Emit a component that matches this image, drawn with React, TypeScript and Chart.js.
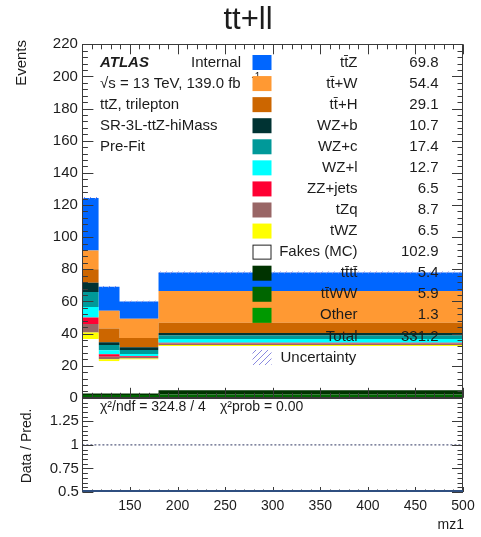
import React, { useEffect, useRef } from 'react';
import { Chart, registerables } from 'chart.js';

Chart.register(...registerables);

// mz1 binning [GeV]
const binEdges = [100, 117, 139, 180, 500];

// Expected events per bin, one array per sample
const ttZ = [32.6, 15.0, 10.7, 11.5];
const ttW = [11.7, 10.9, 12.0, 19.8];
const ttH = [8.4, 8.6, 5.7, 6.4];
const wzB = [5.7, 1.8, 1.7, 1.5];
const wzC = [9.4, 3.2, 2.6, 2.2];
const wzL = [6.6, 2.5, 1.3, 2.3];
const zzJets = [4.0, 1.5, 0.5, 0.5];
const tZq = [5.3, 1.6, 0.9, 0.9];
const tWZ = [4.0, 1.3, 0.6, 0.6];
const fakes = [33.9, 20.1, 21.3, 27.6];
const tttt = [0.9, 0.9, 0.9, 2.7];
const ttWW = [1.5, 1.4, 1.4, 1.6];
const other = [0.3, 0.3, 0.3, 0.4];

// Total MC uncertainty per bin (half-width of the hatched band)
const mcUncertainty = [0.7, 0.5, 0.5, 0.6];

// Integrated yields quoted in the legend
const yieldLabels = ['69.8', '54.4', '29.1', '10.7', '17.4', '12.7', '6.5', '8.7', '6.5', '102.9', '5.4', '5.9', '1.3'];
const totalYield = '331.2';

// Axis tick labels
const mainYTicks = [0, 20, 40, 60, 80, 100, 120, 140, 160, 180, 200, 220];
const ratioYTicks = [0.5, 0.75, 1, 1.25];
const xTicks = [150, 200, 250, 300, 350, 400, 450, 500];

const chi2Text = 'χ²/ndf = 324.8 / 4';
const chi2ProbText = 'χ²prob = 0.00';

const FONT = '"Liberation Sans", Arimo, Helvetica, Arial, sans-serif';
const TXT = '#1c1c1c';

// Stack order from the bottom up
const stack = [
  { label: 'Other', data: other, color: '#009900' },
  { label: 'tt̄WW', data: ttWW, color: '#006600' },
  { label: 'tt̄tt̄', data: tttt, color: '#003300' },
  { label: 'Fakes (MC)', data: fakes, color: '#ffffff' },
  { label: 'tWZ', data: tWZ, color: '#ffff00' },
  { label: 'tZq', data: tZq, color: '#996666' },
  { label: 'ZZ+jets', data: zzJets, color: '#ff0033' },
  { label: 'WZ+l', data: wzL, color: '#00ffff' },
  { label: 'WZ+c', data: wzC, color: '#009999' },
  { label: 'WZ+b', data: wzB, color: '#003333' },
  { label: 'tt̄+H', data: ttH, color: '#cc6600' },
  { label: 'tt̄+W', data: ttW, color: '#ff9933' },
  { label: 'tt̄Z', data: ttZ, color: '#0066ff' },
];

// Step points: one at each lower bin edge, plus the upper edge of the last bin
const toSteps = (vals: number[]) => [
  ...vals.map((y, i) => ({ x: binEdges[i], y })),
  { x: binEdges[binEdges.length - 1], y: vals[vals.length - 1] },
];

function hatchPattern(): CanvasPattern | string {
  const c = document.createElement('canvas');
  c.width = 6;
  c.height = 6;
  const g = c.getContext('2d');
  if (!g) return 'rgba(120,120,220,0.5)';
  g.strokeStyle = '#8a8ae0';
  g.lineWidth = 1;
  g.beginPath();
  g.moveTo(0, 6);
  g.lineTo(6, 0);
  g.moveTo(-3, 3);
  g.lineTo(3, -3);
  g.moveTo(3, 9);
  g.lineTo(9, 3);
  g.stroke();
  return g.createPattern(c, 'repeat') || 'rgba(120,120,220,0.5)';
}

type FrameSpec = {
  xMinor: number;
  xMajor: number;
  yMinor: number;
  yMajor: number;
  xMajorLen: number;
  xMinorLen: number;
  yMajorLen: number;
  yMinorLen: number;
  top: boolean;
  bottom: boolean;
  bottomColor?: string;
};

function framePlugin(spec: FrameSpec) {
  return {
    id: 'rootFrame',
    afterDraw(chart: any) {
      const { ctx, chartArea: a } = chart;
      const xs = chart.scales.x;
      const ys = chart.scales.y;
      ctx.save();
      ctx.strokeStyle = '#3a3a3a';
      ctx.lineWidth = 1;
      const seg = (x1: number, y1: number, x2: number, y2: number) => {
        ctx.beginPath();
        ctx.moveTo(x1, y1);
        ctx.lineTo(x2, y2);
        ctx.stroke();
      };
      const isMajor = (v: number, step: number) => Math.abs(v / step - Math.round(v / step)) < 1e-6;
      const nx = Math.round((xs.max - xs.min) / spec.xMinor);
      for (let i = 0; i <= nx; i++) {
        const v = xs.min + i * spec.xMinor;
        const px = Math.round(xs.getPixelForValue(v)) + 0.5;
        const L = isMajor(v, spec.xMajor) ? spec.xMajorLen : spec.xMinorLen;
        if (spec.bottom) seg(px, a.bottom, px, a.bottom - L);
        if (spec.top) seg(px, a.top, px, a.top + L);
      }
      const ny = Math.round((ys.max - ys.min) / spec.yMinor);
      for (let i = 0; i <= ny; i++) {
        const v = ys.min + i * spec.yMinor;
        const py = Math.round(ys.getPixelForValue(v)) + 0.5;
        const L = isMajor(v, spec.yMajor) ? spec.yMajorLen : spec.yMinorLen;
        seg(a.left, py, a.left + L, py);
        seg(a.right, py, a.right - L, py);
      }
      ctx.strokeRect(Math.round(a.left) + 0.5, Math.round(a.top) + 0.5, Math.round(a.right - a.left) - 1, Math.round(a.bottom - a.top) - 1);
      if (spec.bottomColor) {
        ctx.strokeStyle = spec.bottomColor;
        ctx.lineWidth = 2;
        seg(a.left, a.bottom - 1, a.right, a.bottom - 1);
      }
      ctx.restore();
    },
  };
}

function textPlugin(id: string, draw: (chart: any) => void) {
  return {
    id,
    afterDatasetsDraw(chart: any) {
      chart.ctx.save();
      draw(chart);
      chart.ctx.restore();
    },
  };
}

function drawMainTexts(chart: any, pattern: CanvasPattern | string) {
  const ctx: CanvasRenderingContext2D = chart.ctx;
  const ys = chart.scales.y;
  const a = chart.chartArea;
  ctx.fillStyle = TXT;

  // Title
  ctx.font = `31px ${FONT}`;
  ctx.textAlign = 'center';
  ctx.textBaseline = 'alphabetic';
  ctx.fillText('tt+ll', 248, 28.5);

  // Y axis title
  ctx.save();
  ctx.translate(22, 40);
  ctx.rotate(-Math.PI / 2);
  ctx.font = `15px ${FONT}`;
  ctx.textAlign = 'right';
  ctx.textBaseline = 'middle';
  ctx.fillText('Events', 0, 0);
  ctx.restore();

  // Y tick labels
  ctx.font = `15px ${FONT}`;
  ctx.textAlign = 'right';
  ctx.textBaseline = 'middle';
  mainYTicks.forEach((v) => ctx.fillText(String(v), a.left - 4.5, ys.getPixelForValue(v)));

  const rowY = (i: number) => 62.5 + i * 21.07;

  // Label block (the luminosity exponent sits under the first legend boxes)
  ctx.textAlign = 'left';
  ctx.font = `italic bold 15px ${FONT}`;
  ctx.fillText('ATLAS', 100, rowY(0));
  ctx.font = `15px ${FONT}`;
  ctx.fillText('Internal', 191, rowY(0));
  ctx.fillText('√s = 13 TeV, 139.0 fb', 100, rowY(1));
  ctx.font = `10px ${FONT}`;
  ctx.fillText('-1', 251.5, rowY(1) - 6);
  ctx.font = `15px ${FONT}`;
  ctx.fillText('ttZ, trilepton', 100, rowY(2));
  ctx.fillText('SR-3L-ttZ-hiMass', 100, rowY(3));
  ctx.fillText('Pre-Fit', 100, rowY(4));

  // Sample legend, top of the stack first
  const entries = [...stack].reverse();
  entries.forEach((e, i) => {
    const y = rowY(i);
    ctx.fillStyle = e.color;
    ctx.fillRect(252.5, y - 7.5, 19, 15);
    if (e.color === '#ffffff') {
      ctx.strokeStyle = '#222';
      ctx.lineWidth = 1;
      ctx.strokeRect(253, y - 7, 18, 14);
    }
    ctx.fillStyle = TXT;
    ctx.textAlign = 'right';
    ctx.fillText(e.label, 357.5, y);
    ctx.fillText(yieldLabels[i], 438.5, y);
  });
  const totalRow = rowY(entries.length);
  ctx.fillText('Total', 357.5, totalRow);
  ctx.fillText(totalYield, 438.5, totalRow);

  const uncRow = rowY(entries.length + 1);
  ctx.fillStyle = pattern as any;
  ctx.fillRect(252.5, uncRow - 7.5, 19, 15);
  ctx.fillStyle = TXT;
  ctx.textAlign = 'left';
  ctx.fillText('Uncertainty', 280.5, uncRow);
}

function drawRatioTexts(chart: any) {
  const ctx: CanvasRenderingContext2D = chart.ctx;
  const xs = chart.scales.x;
  const ys = chart.scales.y;
  const a = chart.chartArea;
  ctx.fillStyle = TXT;

  ctx.font = `15px ${FONT}`;
  ctx.textAlign = 'right';
  ctx.textBaseline = 'middle';
  ratioYTicks.forEach((v) => ctx.fillText(String(v), a.left - 3.5, ys.getPixelForValue(v)));

  ctx.font = `14px ${FONT}`;
  ctx.textAlign = 'center';
  ctx.textBaseline = 'top';
  xTicks.forEach((v) => ctx.fillText(String(v), xs.getPixelForValue(v), a.bottom + 7));

  ctx.textAlign = 'right';
  ctx.textBaseline = 'middle';
  ctx.fillText('mz1', 464, 128);

  ctx.save();
  ctx.translate(27, 49);
  ctx.rotate(-Math.PI / 2);
  ctx.textAlign = 'center';
  ctx.fillText('Data / Pred.', 0, 0);
  ctx.restore();

  ctx.textAlign = 'left';
  ctx.textBaseline = 'middle';
  ctx.fillText(chi2Text, 100, 10);
  ctx.fillText(chi2ProbText, 220, 10);
}

export default function App() {
  const mainRef = useRef<HTMLCanvasElement>(null);
  const ratioRef = useRef<HTMLCanvasElement>(null);

  useEffect(() => {
    if (!mainRef.current || !ratioRef.current) return;
    const pattern = hatchPattern();

    const totals = binEdges.slice(0, -1).map((_, i) => stack.reduce((s, d) => s + d.data[i], 0));
    const uncLow = totals.map((t, i) => t - mcUncertainty[i]);
    const uncWidth = mcUncertainty.map((u) => 2 * u);

    const stackSets = stack.map((s, i) => ({
      label: s.label,
      data: toSteps(s.data),
      stack: 'mc',
      stepped: true,
      fill: i === 0 ? 'origin' : '-1',
      backgroundColor: s.color,
      borderColor: 'rgba(0,0,0,0)',
      borderWidth: 0,
      pointRadius: 0,
    }));

    const main = new Chart(mainRef.current, {
      type: 'line',
      data: {
        datasets: [
          {
            label: 'unc-low',
            data: toSteps(uncLow),
            stack: 'unc',
            stepped: true,
            fill: false,
            borderColor: 'rgba(0,0,0,0)',
            borderWidth: 0,
            pointRadius: 0,
          },
          {
            label: 'Uncertainty',
            data: toSteps(uncWidth),
            stack: 'unc',
            stepped: true,
            fill: '-1',
            backgroundColor: pattern,
            borderColor: 'rgba(0,0,0,0)',
            borderWidth: 0,
            pointRadius: 0,
          },
          ...stackSets,
        ] as any,
      },
      options: {
        responsive: false,
        animation: false,
        devicePixelRatio: 1,
        layout: { padding: { left: 82.4, right: 18, top: 44.3, bottom: 12.2 } },
        scales: {
          x: { type: 'linear', min: 100, max: 500, display: false },
          y: { type: 'linear', min: 0, max: 220, display: false, stacked: true },
        },
        plugins: { legend: { display: false }, tooltip: { enabled: false } },
      },
      plugins: [
        framePlugin({
          xMinor: 10, xMajor: 50, yMinor: 4, yMajor: 20,
          xMajorLen: 10, xMinorLen: 5, yMajorLen: 11, yMinorLen: 5.5,
          top: true, bottom: true,
        }),
        textPlugin('mainTexts', (c) => drawMainTexts(c, pattern)),
      ],
    } as any);

    const ratio = new Chart(ratioRef.current, {
      type: 'line',
      data: {
        datasets: [
          {
            label: 'unity',
            data: [{ x: 100, y: 1 }, { x: 500, y: 1 }],
            borderColor: '#2e3560',
            borderWidth: 1,
            borderDash: [2, 2],
            pointRadius: 0,
            fill: false,
          },
        ],
      },
      options: {
        responsive: false,
        animation: false,
        devicePixelRatio: 1,
        layout: { padding: { left: 82.4, right: 18, top: 0.8, bottom: 45 } },
        scales: {
          x: { type: 'linear', min: 100, max: 500, display: false },
          y: { type: 'linear', min: 0.5, max: 1.5, display: false },
        },
        plugins: { legend: { display: false }, tooltip: { enabled: false } },
      },
      plugins: [
        framePlugin({
          xMinor: 10, xMajor: 50, yMinor: 0.05, yMajor: 0.25,
          xMajorLen: 5, xMinorLen: 2.5, yMajorLen: 11, yMinorLen: 5.5,
          top: false, bottom: true, bottomColor: '#2f4f80',
        }),
        textPlugin('ratioTexts', drawRatioTexts),
      ],
    } as any);

    return () => {
      main.destroy();
      ratio.destroy();
    };
  }, []);

  return (
    <div style={{ position: 'absolute', left: 0, top: 0, width: 481, height: 537, background: '#ffffff' }}>
      <canvas ref={mainRef} width={481} height={410} style={{ position: 'absolute', left: 0, top: 0, display: 'block' }} />
      <canvas ref={ratioRef} width={481} height={140} style={{ position: 'absolute', left: 0, top: 397, display: 'block' }} />
    </div>
  );
}
